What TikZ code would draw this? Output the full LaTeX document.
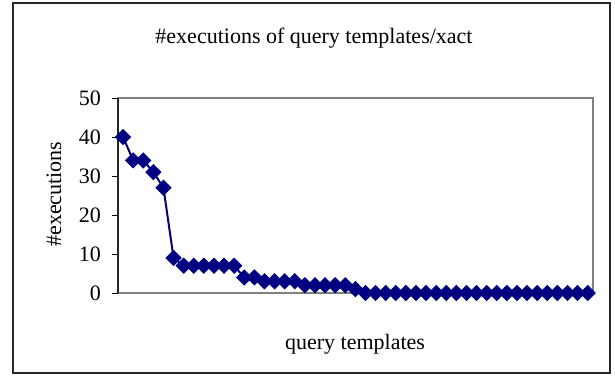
\documentclass[tikz,border=0pt]{standalone}
\usepackage{fontspec}
\setmainfont{Liberation Serif}
\usetikzlibrary{shapes.geometric}
\definecolor{navy}{RGB}{0,0,128}
\definecolor{axisgray}{RGB}{128,128,128}
\definecolor{framegray}{RGB}{40,40,40}
\begin{document}
\begin{tikzpicture}[x=1pt,y=-1pt,
  txt/.style={font=\fontsize{22}{26}\selectfont, inner sep=0pt},
  marker/.style={diamond, fill=navy, draw=navy, line width=0.8pt, inner sep=0pt, minimum size=15.5pt},
  series/.style={navy, line width=2pt},
  tick/.style={black, line width=1pt}]
\useasboundingbox (0,0) rectangle (615,375);
\fill[white] (0,0) rectangle (615,375);
\draw[framegray, line width=1.5pt] (13,3) rectangle (610,373);
\node[txt] (title) at (314,38) {\#executions of query templates/xact};
% plot area
\draw[axisgray, line width=1.5pt] (118,98) rectangle (593,293);
\draw[black!85, line width=1.2pt] (118,98) -- (118,293);
\foreach \v in {0,1,2,3,4,5} {
  \draw[tick] (112,{293-39*\v}) -- (118,{293-39*\v});
  \node[txt, anchor=east] (yl\v) at (101,{293-39*\v}) {\number\numexpr\v*10\relax};
}
\node[txt, rotate=90] (ylabel) at (54,194) {\#executions};
\node[txt] (xlabel) at (355,344) {query templates};
% data
\foreach \v [count=\i] in {40,34,34,31,27,9,7,7,7,7,7,7,4,4,3,3,3,3,2,2,2,2,2,1,0,0,0,0,0,0,0,0,0,0,0,0,0,0,0,0,0,0,0,0,0,0,0}
  \coordinate (p\i) at ({123.05+10.1*(\i-1)},{293-3.9*\v});
\draw[series] (p1) \foreach \i in {2,...,47} {-- (p\i)};
\foreach \i in {1,...,47} \node[marker] (m\i) at (p\i) {};
\end{tikzpicture}
\end{document}
